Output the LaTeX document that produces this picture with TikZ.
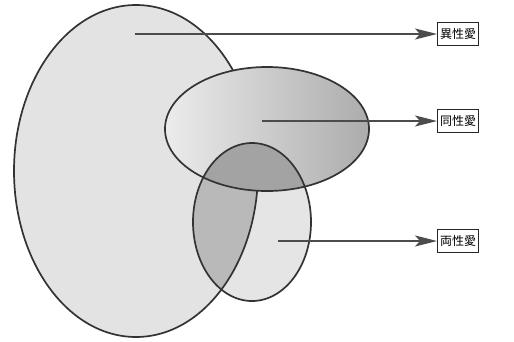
\documentclass[tikz,border=0pt]{standalone}
\usepackage{fontspec}
\newfontfamily\cjk{Noto Sans CJK JP}
\usetikzlibrary{arrows.meta}
\begin{document}
\begin{tikzpicture}[x=1pt,y=-1pt,
  outl/.style={draw=black!80,line width=1.7pt},
  lbl/.style={draw=black!85,line width=1pt,fill=white,inner xsep=2.5pt,inner ysep=5.5pt,font=\cjk\fontsize{12}{14}\selectfont},
  arr/.style={draw=black!70,line width=2pt,-{Stealth[length=22pt,width=11pt,inset=5pt]}}]
\useasboundingbox (0,0) rectangle (514,341);
\coordinate (c1) at (136,171);
\coordinate (c2) at (267,129);
\coordinate (c3) at (252,222);
% big ellipse
\fill[gray!22] (c1) ellipse [x radius=122, y radius=166];
\draw[outl] (c1) ellipse [x radius=122, y radius=166];
% second ellipse
\shade[left color=gray!15,right color=gray!65] (c2) ellipse [x radius=102, y radius=62];
\draw[outl] (c2) ellipse [x radius=102, y radius=62];
% third ellipse
\fill[gray!20] (c3) ellipse [x radius=59, y radius=79];
\begin{scope}
  \clip (c3) ellipse [x radius=59, y radius=79];
  \fill[gray!55] (c1) ellipse [x radius=122, y radius=166];
  \draw[outl] (c1) ellipse [x radius=122, y radius=166];
  \fill[gray!72] (c2) ellipse [x radius=102, y radius=62];
  \draw[outl] (c2) ellipse [x radius=102, y radius=62];
\end{scope}
\draw[outl] (c3) ellipse [x radius=59, y radius=79];
% labels
\node[lbl] (b1) at (458,34) {異性愛};
\node[lbl] (b2) at (458,121) {同性愛};
\node[lbl] (b3) at (458,241) {両性愛};
\coordinate (s1) at (135,34);
\coordinate (s2) at (262,121);
\coordinate (s3) at (278,241);
\draw[arr] (s1) -- (b1.west);
\draw[arr] (s2) -- (b2.west);
\draw[arr] (s3) -- (b3.west);
\end{tikzpicture}
\end{document}
